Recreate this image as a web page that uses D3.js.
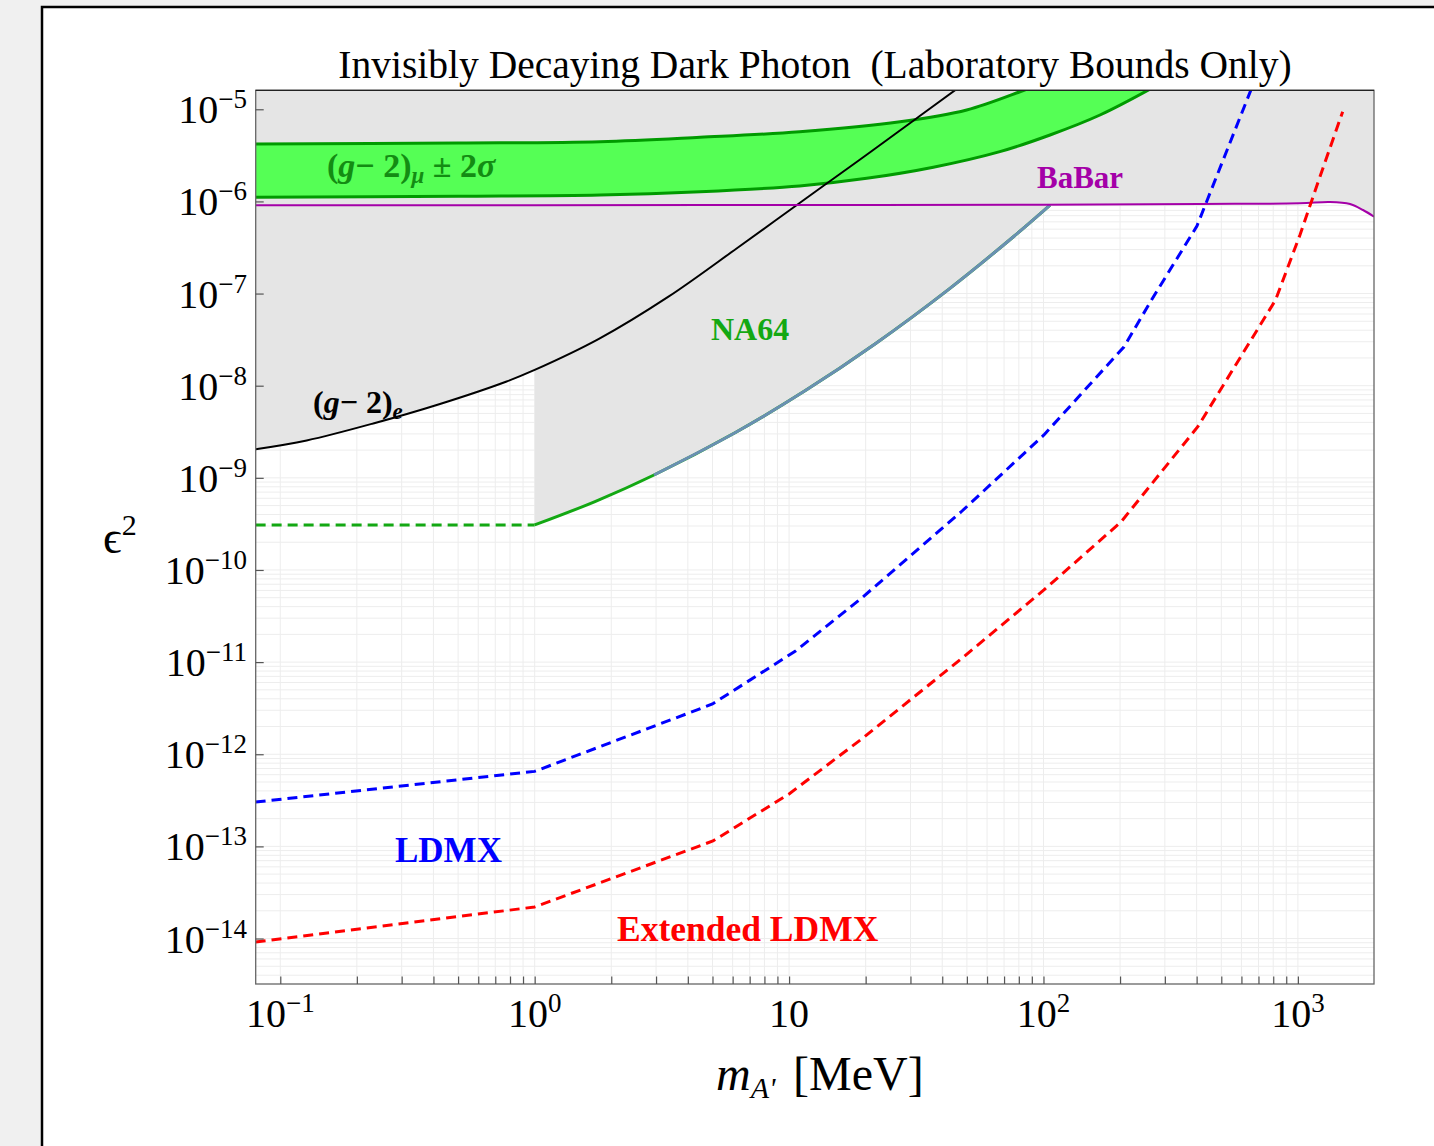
<!DOCTYPE html>
<html><head><meta charset="utf-8">
<script src="https://cdn.jsdelivr.net/npm/d3@7"></script>
<style>
html,body{margin:0;padding:0;background:#f0f0f0;overflow:hidden;}
svg{display:block;}
</style></head><body>
<svg id="chart" width="1434" height="1146"></svg>
<script>
// ---------------- data ----------------
const titleText = "Invisibly Decaying Dark Photon  (Laboratory Bounds Only)";
const xDomain = [0.08005, 1991.6];          // MeV
const yDomain = [3.21e-15, 1.607e-5];       // epsilon^2
const xTickValues = [0.1, 1, 10, 100, 1000];
const xTickExponents = ["−1", "0", "", "2", "3"];
const yTickValues = [1e-5, 1e-6, 1e-7, 1e-8, 1e-9, 1e-10, 1e-11, 1e-12, 1e-13, 1e-14];
const yTickExponents = ["−5", "−6", "−7", "−8", "−9", "−10", "−11", "−12", "−13", "−14"];

// (g-2)_mu +- 2 sigma band
const gm2muUpperMass = [0.08, 0.5, 1.806, 4.47, 11.0, 27.3, 49.9, 80.8, 90.9];
const gm2muUpperEps2 = [4.20e-6, 4.30e-6, 4.45e-6, 4.97e-6, 5.71e-6, 7.33e-6, 9.83e-6, 1.55e-5, 1.76e-5];
const gm2muLowerMass = [0.08, 0.5, 1.806, 4.47, 11.0, 20.2, 36.9, 67.4, 106.1, 166.8, 270.2];
const gm2muLowerEps2 = [1.109e-6, 1.14e-6, 1.175e-6, 1.276e-6, 1.471e-6, 1.78e-6, 2.35e-6, 3.47e-6, 5.26e-6, 8.67e-6, 1.73e-5];

// (g-2)_e
const gm2eMass = [0.08, 0.127, 0.232, 0.4243, 0.7757, 1.0, 1.788, 3.333, 6.218, 10.73, 18.66, 31.26, 46.12, 56.28];
const gm2eEps2 = [2.042e-9, 2.544e-9, 3.89e-9, 6.33e-9, 1.111e-8, 1.482e-8, 3.222e-8, 9.135e-8, 3.086e-7, 9.15e-7, 2.747e-6, 7.75e-6, 1.698e-5, 2.54e-5];

// NA64
const na64Mass = [1.0, 1.726, 2.944, 6.13, 11.55, 21.76, 42.9, 76.6, 106.1];
const na64Eps2 = [3.08e-10, 5.53e-10, 1.074e-9, 3.09e-9, 8.81e-9, 2.84e-8, 1.14e-7, 4.19e-7, 9.12e-7];
const na64ProjMass = [0.08, 1.0];
const na64ProjEps2 = [3.08e-10, 3.08e-10];

// BaBar
const babarMass = [0.08, 1, 10, 100, 412, 1019, 1337, 1603, 1803, 1992];
const babarEps2 = [9.1e-7, 9.1e-7, 9.15e-7, 9.2e-7, 9.38e-7, 9.55e-7, 9.86e-7, 9.38e-7, 8.07e-7, 6.83e-7];

// LDMX
const ldmxMass = [0.08, 1.0, 5.0, 10.6, 19.3, 47.4, 100.4, 207, 265.8, 401, 661];
const ldmxEps2 = [3.03e-13, 6.52e-13, 3.51e-12, 1.32e-11, 4.97e-11, 4.26e-10, 2.92e-9, 2.63e-8, 8.52e-8, 5.4e-7, 1.75e-5];

// Extended LDMX
const extMass = [0.08, 1.0, 5.02, 10.0, 19.3, 47.4, 100.4, 201.7, 404.8, 817, 1019, 1221, 1500];
const extEps2 = [9.18e-15, 2.20e-14, 1.145e-13, 3.71e-13, 1.466e-12, 1.08e-11, 6.07e-11, 3.32e-10, 3.61e-9, 8.52e-8, 4.33e-7, 1.855e-6, 9.42e-6];

// ---------------- drawing ----------------
(function () {
const zip = (a, b) => a.map((v, i) => [v, b[i]]);
const svg = d3.select("#chart");
const L = 255.7, R = 1374, T = 90.3, B = 984;
const serif = "'Liberation Serif', 'Times New Roman', 'DejaVu Serif', serif";

svg.append("rect").attr("x", 42).attr("y", 7).attr("width", 1500).attr("height", 1300)
  .attr("fill", "#fff").attr("stroke", "#000").attr("stroke-width", 2.5);

const x = d3.scaleLog().domain(xDomain).range([L, R]);
const y = d3.scaleLog().domain(yDomain).range([B, T]);

svg.append("defs").append("clipPath").attr("id", "clip")
  .append("rect").attr("x", L).attr("y", T).attr("width", R - L).attr("height", B - T);
const plot = svg.append("g").attr("clip-path", "url(#clip)");

// grid
const xGrid = [], yGrid = [];
for (let k = -1; k <= 3; k++) for (let n = 1; n <= 9; n++) { const v = n * Math.pow(10, k); if (v >= 0.1 && v <= xDomain[1]) xGrid.push(v); }
for (let k = -15; k <= -5; k++) for (let n = 1; n <= 9; n++) { const v = n * Math.pow(10, k); if (v >= yDomain[0] && v <= yDomain[1]) yGrid.push(v); }
const grid = plot.append("g").attr("stroke", "#ededed").attr("stroke-width", 1);
grid.selectAll("line.gx").data(xGrid).join("line").attr("class", "gx")
  .attr("x1", d => x(d)).attr("x2", d => x(d)).attr("y1", T).attr("y2", B);
grid.selectAll("line.gy").data(yGrid).join("line").attr("class", "gy")
  .attr("y1", d => y(d)).attr("y2", d => y(d)).attr("x1", L).attr("x2", R);

const lineSmooth = d3.line().x(d => x(d[0])).y(d => y(d[1])).curve(d3.curveCatmullRom.alpha(0.5));
const lineLin = d3.line().x(d => x(d[0])).y(d => y(d[1]));
const cont = s => "L" + s.slice(1);

// excluded gray region
const black = zip(gm2eMass, gm2eEps2);
const blackLow = black.filter(d => d[0] <= 1.0);
const na64 = zip(na64Mass, na64Eps2);
const babar = zip(babarMass, babarEps2);
const na64End = na64Mass[na64Mass.length - 1];
const babarHigh = [[na64End, na64Eps2[na64Eps2.length - 1]]].concat(babar.filter(d => d[0] > na64End));
const yTopVal = yDomain[1] * 1.5;
let grayPath = lineLin([[xDomain[0] * 0.9, yTopVal], [xDomain[0] * 0.9, blackLow[0][1]], blackLow[0]]);
grayPath += cont(lineSmooth(blackLow));
grayPath += cont(lineLin([blackLow[blackLow.length - 1], na64[0]]));
grayPath += cont(lineSmooth(na64));
grayPath += cont(lineSmooth(babarHigh));
grayPath += cont(lineLin([babarHigh[babarHigh.length - 1], [xDomain[1] * 1.2, babarHigh[babarHigh.length - 1][1]], [xDomain[1] * 1.2, yTopVal]])) + "Z";
plot.append("path").attr("d", grayPath).attr("fill", "#e5e5e5");

// (g-2)_mu band
const up = zip(gm2muUpperMass, gm2muUpperEps2);
const lo = zip(gm2muLowerMass, gm2muLowerEps2);
const bandPath = lineSmooth(up)
  + cont(lineLin([up[up.length - 1], [lo[lo.length - 1][0], up[up.length - 1][1] * 3], lo[lo.length - 1]]))
  + cont(lineSmooth(lo.slice().reverse())) + "Z";
plot.append("path").attr("d", bandPath).attr("fill", "#55ff55");
plot.append("path").attr("d", lineSmooth(up)).attr("fill", "none").attr("stroke", "#009a00").attr("stroke-width", 3);
plot.append("path").attr("d", lineSmooth(lo)).attr("fill", "none").attr("stroke", "#009a00").attr("stroke-width", 3);

// (g-2)_e
plot.append("path").attr("d", lineSmooth(black)).attr("fill", "none").attr("stroke", "#000").attr("stroke-width", 2);

// NA64
plot.append("path").attr("d", lineLin(zip(na64ProjMass, na64ProjEps2))).attr("fill", "none")
  .attr("stroke", "#13a813").attr("stroke-width", 3).attr("stroke-dasharray", "10,6");
plot.append("path").attr("d", lineSmooth(na64)).attr("fill", "none").attr("stroke", "#13a813").attr("stroke-width", 3);
plot.append("path").attr("d", lineSmooth(na64.filter(d => d[0] >= 2.9))).attr("fill", "none")
  .attr("stroke", "#6a8fb3").attr("stroke-width", 3);

// BaBar
plot.append("path").attr("d", lineSmooth(babar)).attr("fill", "none").attr("stroke", "#a400a8").attr("stroke-width", 2);

// LDMX and Extended LDMX
plot.append("path").attr("d", lineLin(zip(ldmxMass, ldmxEps2))).attr("fill", "none")
  .attr("stroke", "#0000ff").attr("stroke-width", 3).attr("stroke-dasharray", "10,6");
plot.append("path").attr("d", lineLin(zip(extMass, extEps2))).attr("fill", "none")
  .attr("stroke", "#ff0000").attr("stroke-width", 3).attr("stroke-dasharray", "10,6");

// frame
svg.append("rect").attr("x", L).attr("y", T).attr("width", R - L).attr("height", B - T)
  .attr("fill", "none").attr("stroke", "#666").attr("stroke-width", 1.3);
svg.append("line").attr("x1", L).attr("x2", R).attr("y1", T).attr("y2", T).attr("stroke", "#222").attr("stroke-width", 1.3);

// axes ticks
const xTicksAll = xGrid.filter(v => v >= 0.1 && v <= 1000);
const xAxis = d3.axisBottom(x).tickValues(xTicksAll).tickSizeInner(-7.5).tickSizeOuter(0).tickFormat("");
const gx = svg.append("g").attr("transform", `translate(0,${B})`).call(xAxis);
gx.select(".domain").remove();
gx.selectAll(".tick line").attr("stroke", "#555").attr("stroke-width", 1.2);
const yAxis = d3.axisLeft(y).tickValues(yTickValues).tickSizeInner(-8).tickSizeOuter(0).tickFormat("");
const gy = svg.append("g").attr("transform", `translate(${L},0)`).call(yAxis);
gy.select(".domain").remove();
gy.selectAll(".tick line").attr("stroke", "#555").attr("stroke-width", 1.2);

// rich text helper
function rich(x0, y0, parts, opts) {
  const t = svg.append("text").attr("x", x0).attr("y", y0)
    .attr("font-family", serif).attr("font-size", opts.size).attr("fill", opts.fill || "#000")
    .attr("text-anchor", opts.anchor || "start").style("white-space", "pre");
  if (opts.bold) t.attr("font-weight", "bold");
  let shift = 0;
  parts.forEach(p => {
    const s = t.append("tspan").text(p.t);
    const target = p.dy || 0;
    if (target - shift !== 0) s.attr("dy", target - shift);
    shift = target;
    if (p.italic) s.attr("font-style", "italic");
    if (p.size) s.attr("font-size", p.size);
  });
  return t;
}

// tick labels
xTickValues.forEach((v, i) => {
  const parts = [{ t: "10" }];
  if (xTickExponents[i]) parts.push({ t: xTickExponents[i], dy: -15, size: 27 });
  rich(x(v), 1027, parts, { size: 40, anchor: "middle" });
});
yTickValues.forEach((v, i) => {
  rich(247, y(v) + 14, [{ t: "10" }, { t: yTickExponents[i], dy: -15, size: 27 }], { size: 40, anchor: "end" });
});

// title & axis labels
rich(815, 78, [{ t: titleText }], { size: 39.5, anchor: "middle" });
rich(103, 553, [{ t: "\u03F5" }, { t: "2", dy: -18, size: 30 }], { size: 46 });
rich(716, 1090, [{ t: "m", italic: true }, { t: "A'", italic: true, dy: 8, size: 30 }], { size: 48 });
rich(793, 1090, [{ t: "[MeV]" }], { size: 48 });

// curve labels
rich(327, 177, [{ t: "(" }, { t: "g", italic: true }, { t: "− 2)" }, { t: "μ", italic: true, dy: 6, size: 23 }, { t: " ± 2" }, { t: "σ", italic: true }],
  { size: 34, bold: true, fill: "#138c13" });
rich(313, 413, [{ t: "(" }, { t: "g", italic: true }, { t: "− 2)" }, { t: "e", italic: true, dy: 6, size: 23 }],
  { size: 32, bold: true, fill: "#000" });
rich(1037, 188, [{ t: "BaBar" }], { size: 31, bold: true, fill: "#a400a8" });
rich(711, 340, [{ t: "NA64" }], { size: 32, bold: true, fill: "#13a813" });
rich(395, 862, [{ t: "LDMX" }], { size: 35, bold: true, fill: "#0000ff" });
rich(617, 941, [{ t: "Extended LDMX" }], { size: 35.5, bold: true, fill: "#ff0000" });
})();
</script>
</body></html>
